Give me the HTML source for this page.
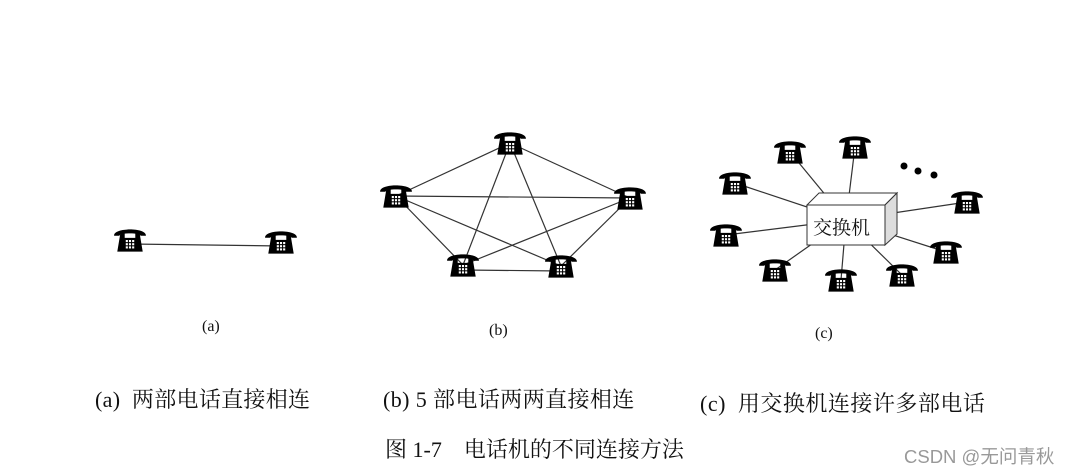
<!DOCTYPE html>
<html><head><meta charset="utf-8"><style>
html,body{margin:0;padding:0;background:#fff;}
body{width:1067px;height:470px;overflow:hidden;position:relative;}
.t{position:absolute;font-family:"Liberation Serif","Noto Serif CJK SC",serif;color:#111;white-space:nowrap;}
</style></head><body>
<svg width="1067" height="470" style="position:absolute;left:0;top:0">
<defs>
<symbol id="ph" viewBox="-17 -13 34 26" overflow="visible">
<path d="M-15,-4 C-16,-12 16,-12 15,-4 L10,-4 C10,-7 -10,-7 -10,-4 Z" fill="#000"/>
<path d="M-9,-7 L-5,-7 L-5,-2 L5,-2 L5,-7 L9,-7 L12,11 L-12,11 Z" fill="#000"/>
<g fill="#fff"><rect x="-4" y="0" width="2" height="2"/><rect x="-1" y="0" width="2" height="2"/><rect x="2" y="0" width="2" height="2"/>
<rect x="-4" y="3" width="2" height="2"/><rect x="-1" y="3" width="2" height="2"/><rect x="2" y="3" width="2" height="2"/>
<rect x="-4" y="6" width="2" height="2"/><rect x="-1" y="6" width="2" height="2"/><rect x="2" y="6" width="2" height="2"/></g>
</symbol>
</defs>
<g stroke="#333" stroke-width="1.2">
<line x1="130" y1="244" x2="281" y2="246"/>
<line x1="510" y1="143" x2="396" y2="196"/><line x1="510" y1="143" x2="630" y2="198"/>
<line x1="510" y1="143" x2="463" y2="265"/><line x1="510" y1="143" x2="561" y2="266"/>
<line x1="396" y1="196" x2="630" y2="198"/><line x1="396" y1="196" x2="463" y2="265"/>
<line x1="396" y1="196" x2="561" y2="266"/><line x1="630" y1="198" x2="463" y2="265"/>
<line x1="630" y1="198" x2="561" y2="266"/><line x1="463" y1="270" x2="561" y2="271"/>
<line x1="846" y1="220" x2="790" y2="152"/><line x1="846" y1="220" x2="855" y2="147"/>
<line x1="846" y1="220" x2="735" y2="183"/><line x1="846" y1="220" x2="967" y2="202"/>
<line x1="846" y1="220" x2="726" y2="235"/><line x1="846" y1="220" x2="946" y2="252"/>
<line x1="846" y1="220" x2="775" y2="270"/><line x1="846" y1="220" x2="841" y2="280"/>
<line x1="846" y1="220" x2="902" y2="275"/>
</g>
<polygon points="807,205 819,193 897,193 885,205" fill="#fff" stroke="#333"/>
<polygon points="885,205 897,193 897,234 885,245" fill="#ddd" stroke="#333"/>
<rect x="807" y="205" width="78" height="40" fill="#fff" stroke="#333"/>
<g fill="#000"><circle cx="904" cy="166" r="3.5"/><circle cx="918" cy="171" r="3.5"/><circle cx="934" cy="175" r="3.5"/></g>
<g>
<use href="#ph" x="112" y="226" width="36" height="28"/>
<use href="#ph" x="263" y="228" width="36" height="28"/>
<use href="#ph" x="492" y="129" width="36" height="28"/>
<use href="#ph" x="378" y="182" width="36" height="28"/>
<use href="#ph" x="612" y="184" width="36" height="28"/>
<use href="#ph" x="445" y="251" width="36" height="28"/>
<use href="#ph" x="543" y="252" width="36" height="28"/>
<use href="#ph" x="772" y="138" width="36" height="28"/>
<use href="#ph" x="837" y="133" width="36" height="28"/>
<use href="#ph" x="717" y="169" width="36" height="28"/>
<use href="#ph" x="949" y="188" width="36" height="28"/>
<use href="#ph" x="708" y="221" width="36" height="28"/>
<use href="#ph" x="928" y="238" width="36" height="28"/>
<use href="#ph" x="757" y="256" width="36" height="28"/>
<use href="#ph" x="823" y="266" width="36" height="28"/>
<use href="#ph" x="884" y="261" width="36" height="28"/>
</g>
</svg>
<div class="t" style="left:813px;top:213px;font-size:19px;">交换机</div>
<div class="t" style="left:202px;top:318px;font-size:16px;">(a)</div>
<div class="t" style="left:489px;top:322px;font-size:16px;">(b)</div>
<div class="t" style="left:815px;top:325px;font-size:16px;">(c)</div>
<div class="t" style="left:95px;top:383px;font-size:22px;letter-spacing:0.3px;">(a)&nbsp; 两部电话直接相连</div>
<div class="t" style="left:383px;top:383px;font-size:22px;letter-spacing:0.4px;">(b) 5 部电话两两直接相连</div>
<div class="t" style="left:700px;top:387px;font-size:22px;letter-spacing:0.5px;">(c)&nbsp; 用交换机连接许多部电话</div>
<div class="t" style="left:385px;top:433px;font-size:22px;">图 1-7&nbsp;&nbsp;&nbsp; 电话机的不同连接方法</div>
<div class="t" style="left:904px;top:443px;font-size:18.5px;color:#999;font-family:'Liberation Sans','Noto Sans CJK SC',sans-serif;">CSDN @无问青秋</div>
</body></html>
